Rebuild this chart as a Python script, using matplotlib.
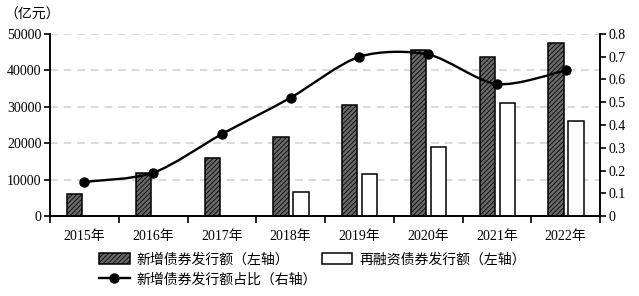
import numpy as np
import matplotlib
matplotlib.use("Agg")
import matplotlib.pyplot as plt
from matplotlib.path import Path
from matplotlib.patches import PathPatch
from matplotlib.lines import Line2D
from matplotlib.patches import Patch

plt.rcParams['font.family'] = ['Liberation Serif', 'Noto Sans CJK SC']
plt.rcParams['hatch.linewidth'] = 0.6
plt.rcParams['hatch.color'] = '#222222'

# Data
years = ['2015年', '2016年', '2017年', '2018年', '2019年', '2020年', '2021年', '2022年']
new_bonds = [6000, 11700, 15900, 21800, 30500, 45600, 43600, 47600]
refi_bonds = [0, 0, 0, 6700, 11500, 18900, 31100, 26000]
new_share = [0.15, 0.19, 0.36, 0.52, 0.70, 0.71, 0.58, 0.64]

fig = plt.figure(figsize=(6.39, 2.96), dpi=100)
ax = fig.add_axes([50/639, 1-216/296, 550/639, 182/296])
ax2 = ax.twinx()

x = np.arange(len(years))
w = 0.22

# ---- bars (left axis) ----
ax.bar(x - 0.14, new_bonds, w, facecolor='#6a6a6a', edgecolor='black',
       linewidth=1.1, hatch='///////', zorder=3)
refi = np.array(refi_bonds, dtype=float)
m = refi > 0
ax.bar(x[m] + 0.15, refi[m], w, facecolor='white', edgecolor='black',
       linewidth=1.1, zorder=3)

ax.set_xlim(-0.5, len(years) - 0.5)
ax.set_ylim(0, 50000)
ax.set_yticks(range(0, 50001, 10000))
for v in range(10000, 50001, 10000):
    ax.axhline(v, color='#d9d9d9', lw=1.4, ls=(0, (4, 3)), zorder=0)

ax.set_xticks(x)
ax.set_xticklabels(years, fontsize=10)
ax.set_xticks(np.arange(-0.5, len(years)), minor=True)
ax.tick_params(axis='x', which='major', length=0, pad=10)
ax.tick_params(axis='x', which='minor', length=5, width=1.2, direction='out')
ax.tick_params(axis='y', length=4, width=1.2, labelsize=10, pad=2)

for s in ['top']:
    ax.spines[s].set_visible(False)
    ax2.spines[s].set_visible(False)
for s in ['left', 'bottom', 'right']:
    ax.spines[s].set_linewidth(1.2)
    ax2.spines[s].set_linewidth(1.2)

# ---- smooth share line (right axis) ----
pts = np.column_stack([x, new_share]).astype(float)
ext = np.vstack([pts[0], pts, pts[-1]])
verts = [tuple(pts[0])]
codes = [Path.MOVETO]
k = 1 / 7  # curve tension
for i in range(len(pts) - 1):
    p0, p1, p2, p3 = ext[i], ext[i + 1], ext[i + 2], ext[i + 3]
    c1 = p1 + (p2 - p0) * k
    c2 = p2 - (p3 - p1) * k
    verts += [tuple(c1), tuple(c2), tuple(p2)]
    codes += [Path.CURVE4] * 3
ax2.add_patch(PathPatch(Path(verts, codes), fill=False, edgecolor='black',
                        lw=1.7, zorder=4))
ax2.plot(x, new_share, 'o', color='black', markersize=6.5, zorder=5)
ax2.set_ylim(0, 0.8)
ax2.set_yticks(np.arange(0, 0.81, 0.1))
ax2.set_yticklabels(['0'] + [f'{v:.1f}' for v in np.arange(0.1, 0.81, 0.1)])
ax2.tick_params(axis='y', length=4, width=1.2, labelsize=10, pad=2)

fig.text(4/639, 1-15/296, '（亿元）', fontsize=10, va='center', ha='left')

handles = [
    Patch(facecolor='#6a6a6a', edgecolor='black', hatch='///////', linewidth=1.1),
    Line2D([0], [0], color='black', lw=1.7, marker='o', markersize=6.5),
    Patch(facecolor='white', edgecolor='black', linewidth=1.1),
]
labels = ['新增债券发行额（左轴）', '新增债券发行额占比（右轴）', '再融资债券发行额（左轴）']
fig.legend(handles, labels, ncol=2, loc='upper left',
           bbox_to_anchor=(92/639, 1-246/296), frameon=False, fontsize=10,
           handlelength=2.2, handleheight=0.9, handletextpad=0.5,
           columnspacing=0.35, labelspacing=0.45, borderpad=0)

fig.savefig('out.png', dpi=100)
